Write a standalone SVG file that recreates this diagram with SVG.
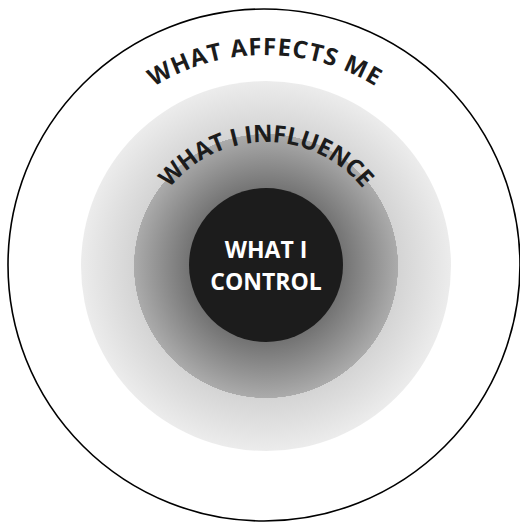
<svg xmlns="http://www.w3.org/2000/svg" width="520" height="525" viewBox="0 0 520 525">
  <style>
    .arc-label { font-family: "Open Sans", "Liberation Sans", sans-serif; font-weight: 700; fill: #1c1c1c; }
    .core-label { font-family: "Open Sans", "Liberation Sans", sans-serif; font-weight: 700; fill: #ffffff; font-size: 23px; text-anchor: middle; }
  </style>
  <defs>
    <!-- two-tone radial shading: darker inner band, lighter outer band -->
    <radialGradient id="influenceShade" cx="266" cy="266" r="185" gradientUnits="userSpaceOnUse">
      <stop offset="0.41" stop-color="#727272"/>
      <stop offset="0.713" stop-color="#ababab"/>
      <stop offset="0.714" stop-color="#d4d4d4"/>
      <stop offset="1" stop-color="#ececec"/>
    </radialGradient>
    <path id="affectsArc" d="M 54 266 A 211 211 0 0 1 476 266"/>
    <path id="influenceArc" d="M 142 266 A 124 124 0 0 1 390 266"/>
  </defs>

  <rect width="520" height="525" fill="#ffffff"/>

  <g id="affects">
    <circle cx="264" cy="265" r="256" fill="#ffffff" stroke="#000000" stroke-width="1.6"/>
    <text class="arc-label" font-size="24" letter-spacing="1">
      <textPath href="#affectsArc" startOffset="50%" text-anchor="middle">WHAT AFFECTS ME</textPath>
    </text>
  </g>

  <g id="influence">
    <circle cx="266" cy="266" r="185" fill="url(#influenceShade)"/>
    <text class="arc-label" font-size="24" letter-spacing="-0.3">
      <textPath href="#influenceArc" startOffset="50%" text-anchor="middle">WHAT I INFLUENCE</textPath>
    </text>
  </g>

  <g id="control">
    <circle cx="266" cy="265" r="77" fill="#1c1c1c"/>
    <text class="core-label" x="266" y="258">WHAT I</text>
    <text class="core-label" x="266" y="290">CONTROL</text>
  </g>

  <g id="connectors"/>
</svg>
